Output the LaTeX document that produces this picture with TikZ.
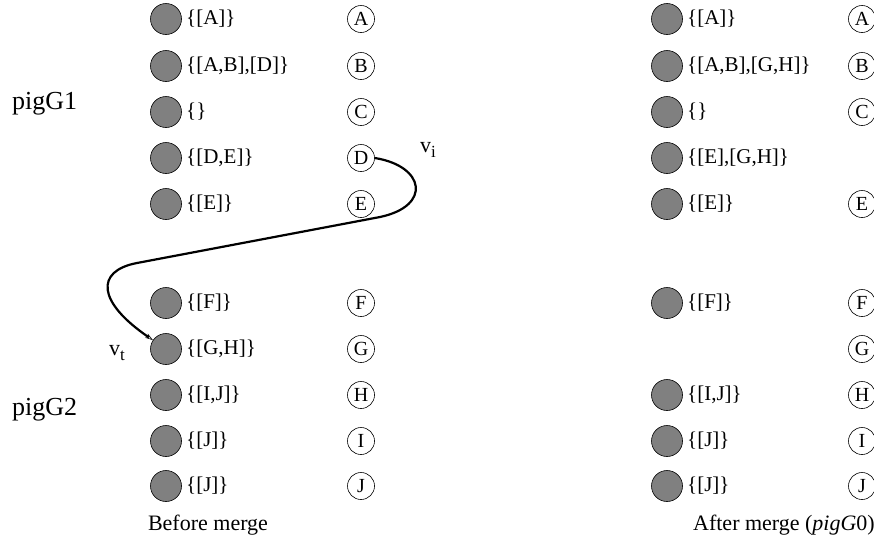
\documentclass[tikz,border=0pt]{standalone}
\usepackage{fontspec}
\setmainfont{Liberation Serif}
\usetikzlibrary{arrows.meta}
\begin{document}
\begin{tikzpicture}[x=1pt,y=-1pt,
  dot/.style={circle,draw,line width=0.6pt,fill=black!50,minimum size=31pt,inner sep=0pt},
  let/.style={circle,draw,line width=0.6pt,fill=white,minimum size=27pt,inner sep=0pt,font=\fontsize{20}{22}\selectfont},
  lab/.style={anchor=west,inner sep=0pt,font=\fontsize{21}{24}\selectfont},
  big/.style={inner sep=0pt,font=\fontsize{26}{30}\selectfont},
  captxt/.style={inner sep=0pt,font=\fontsize{22}{25}\selectfont}]
\useasboundingbox (0,0) rectangle (874,544);
\clip (0,0) rectangle (874,544);
% left side
\foreach \n/\y/\t in {1/19/{\{[A]\}},2/66/{\{[A,B],[D]\}},3/112/{\{\}},4/158/{\{[D,E]\}},5/204/{\{[E]\}},6/303/{\{[F]\}},7/349/{\{[G,H]\}},8/395/{\{[I,J]\}},9/441/{\{[J]\}},10/486/{\{[J]\}}}{
  \node[dot] (g\n) at (166,\y) {};
  \node[lab] (t\n) at (186,\y) {\t};
}
\foreach \n/\y/\t in {1/19/A,2/66/B,3/112/C,4/158/D,5/204/E,6/303/F,7/349/G,8/395/H,9/441/I,10/486/J}{
  \node[let] (l\n) at (361,\y) {\t};
}
% right side
\foreach \n/\y/\t in {1/19/{\{[A]\}},2/66/{\{[A,B],[G,H]\}},3/112/{\{\}},4/158/{\{[E],[G,H]\}},5/204/{\{[E]\}},6/303/{\{[F]\}},8/395/{\{[I,J]\}},9/441/{\{[J]\}},10/486/{\{[J]\}}}{
  \node[dot] (rg\n) at (667,\y) {};
  \node[lab] (rt\n) at (687,\y) {\t};
}
\foreach \n/\y/\t in {1/19/A,2/66/B,3/112/C,5/204/E,6/303/F,7/349/G,8/395/H,9/441/I,10/486/J}{
  \node[let] (rl\n) at (862,\y) {\t};
}
% group labels
\node[big,anchor=west] (p1) at (12,104) {pigG1};
\node[big,anchor=west] (p2) at (12,410) {pigG2};
% captions
\node[captxt] (c1) at (208,525) {Before merge};
\node[captxt,anchor=east] (c2) at (875,525) {After merge (\textit{pigG}0)};
% connector
\draw[line width=2.2pt,-{Stealth[open,length=8pt,width=5pt,line width=0.6pt]}]
  (l4.east) .. controls (425,166) and (432,206) .. (380,217)
  -- (137,263) .. controls (95,271) and (97,302) .. (g7);
\node[big,font=\fontsize{22}{25}\selectfont] (vi) at (428,150) {v\raisebox{-0.45ex}{\fontsize{17}{19}\selectfont i}};
\node[big,font=\fontsize{22}{25}\selectfont] (vt) at (117,353) {v\raisebox{-0.45ex}{\fontsize{17}{19}\selectfont t}};
\end{tikzpicture}
\end{document}
